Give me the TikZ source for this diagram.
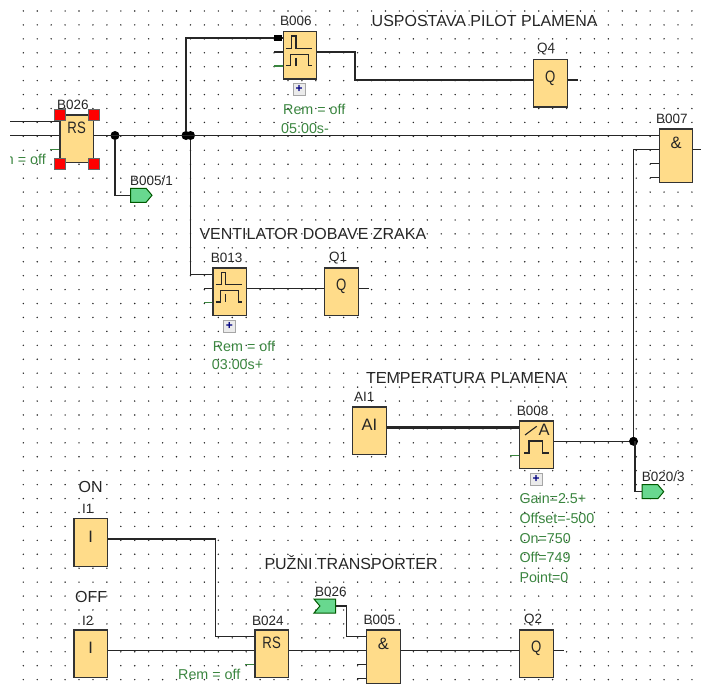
\documentclass[tikz,border=0pt]{standalone}
\usepackage{fontspec}
\setmainfont{Liberation Sans}
\usetikzlibrary{positioning,calc,shapes.symbols}
\definecolor{gatefill}{HTML}{FFDC8A}
\definecolor{remgreen}{HTML}{3A853F}
\definecolor{flagfill}{HTML}{68D88F}
\tikzset{
  griddot/.style={fill=black!85},
  wire/.style={draw=black!85,line width=1.1pt},
  pinwire/.style={draw=remgreen,line width=1.1pt},
  gate/.style={draw=black!80,fill=gatefill,line width=1.2pt,anchor=north west,inner sep=0pt,
    minimum width=33.5pt,minimum height=47.5pt},
  andgate/.style={gate,minimum height=53.5pt},
  gatelabel/.style={font=\fontsize{16.5}{16}\selectfont,text=black!85,inner sep=0pt},
  tag/.style={font=\fontsize{13.5}{14}\selectfont,text=black!85,anchor=west,inner sep=0pt},
  title/.style={font=\fontsize{16}{16}\selectfont,text=black!85,anchor=west,inner sep=0pt},
  param/.style={font=\fontsize{14.3}{15}\selectfont,text=remgreen,anchor=west,inner sep=0pt},
  junction/.style={circle,fill=black,inner sep=0pt,minimum size=9pt},
  grip/.style={draw=black!60,fill=red,inner sep=0pt,minimum size=11pt},
  expander/.style={draw=black!35,fill=black!8,inner sep=0pt,minimum size=12pt,text=blue!50!black,
    font=\bfseries\fontsize{12}{12}\selectfont},
  outflag/.style={signal,signal to=east,signal pointer angle=100,draw=green!35!black,fill=flagfill,
    line width=1pt,inner sep=0pt,minimum width=21.5pt,minimum height=14pt},
  inflag/.style={signal,signal from=west,signal to=nowhere,signal pointer angle=100,draw=green!35!black,
    fill=flagfill,line width=1pt,inner sep=0pt,minimum width=21.5pt,minimum height=14pt},
  icon/.style={draw=black!85,line width=1.1pt}
}
\newcommand{\pins}[1]{
  \coordinate (#1i1) at ($(#1.north west)+(0,7)$);
  \coordinate (#1i2) at ($(#1.north west)+(0,21)$);
  \coordinate (#1i3) at ($(#1.north west)+(0,35)$);
  \coordinate (#1i4) at ($(#1.north west)+(0,49)$);
  \coordinate (#1q) at ($(#1.north east)+(0,21)$);
}
\newcommand{\timericon}[1]{
  \begin{scope}[shift={(#1.north west)}]
    \draw[icon] (3.2,17.3) -- (9.2,17.3) -- (9.2,5) -- (13.5,5) -- (13.5,17.3) -- (29.5,17.3);
    \draw[icon] (3.2,34.7) -- (8.2,34.7) -- (8.2,23.3) -- (25.8,23.3) -- (25.8,34.7) -- (29.5,34.7);
    \draw[icon] (13.5,27) -- (13.5,34.7);
  \end{scope}
}
\begin{document}
\begin{tikzpicture}[x=1pt,y=-1pt]
  \useasboundingbox (0,0) rectangle (701,690);
  % grid
  \foreach \i in {0,...,48}
    \foreach \j in {0,...,48}
      \fill[griddot] ({23.3+13.93*\i},{11+13.93*\j}) circle (0.8);

  % titles
  \node[title] (tpilot) at (371.5,21) {USPOSTAVA PILOT PLAMENA};
  \node[title] (tfan) at (199.3,234) {VENTILATOR DOBAVE ZRAKA};
  \node[title] (ttemp) at (366,377.7) {TEMPERATURA PLAMENA};
  \node[title] (tpuz) at (264.3,562.7) {PUŽNI TRANSPORTER};
  \node[title] (ton) at (78.5,487.3) {ON};
  \node[title] (toff) at (75,596.7) {OFF};

  % blocks
  \node[gate,label={[gatelabel,yshift=10.7pt]center:\scalebox{0.8}[1]{RS}}] (b026) at (59.3,114.5) {};
  \node[gate] (b006) at (282.5,31) {};
  \node[gate,label={[gatelabel,yshift=5.5pt]center:\scalebox{0.8}[1]{Q}}] (q4) at (533,59) {};
  \node[andgate,label={[gatelabel,yshift=13pt]center:\&}] (b007) at (658.7,128.5) {};
  \node[gate] (b013) at (212.3,267.3) {};
  \node[gate,label={[gatelabel,yshift=5.5pt]center:\scalebox{0.8}[1]{Q}}] (q1) at (324,267.3) {};
  \node[gate,label={[gatelabel,yshift=5.5pt]center:AI}] (ai1) at (352,406.3) {};
  \node[gate] (b008) at (519,420.3) {};
  \node[gate,label={[gatelabel,yshift=5.5pt]center:I}] (i1) at (73.3,518) {};
  \node[gate,label={[gatelabel,yshift=5.5pt]center:I}] (i2) at (73.3,629.3) {};
  \node[gate,label={[gatelabel,yshift=10.7pt]center:\scalebox{0.8}[1]{RS}}] (b024) at (254.3,629.3) {};
  \node[andgate,label={[gatelabel,yshift=13pt]center:\&}] (b005) at (366,629.3) {};
  \node[gate,label={[gatelabel,yshift=5.5pt]center:\scalebox{0.8}[1]{Q}}] (q2) at (519,629.3) {};
  \pins{b026} \pins{b006} \pins{q4} \pins{b007} \pins{b013} \pins{q1}
  \pins{ai1} \pins{b008} \pins{i1} \pins{i2} \pins{b024} \pins{b005} \pins{q2}

  % block symbols
  \timericon{b006}
  \timericon{b013}
  \begin{scope}[shift={(b008.north west)}]
    \draw[icon] (6,14.7) -- (17.7,6);
    \node[gatelabel] (afa) at (25,9.7) {A};
    \draw[icon] (5,32.7) -- (10,32.7) -- (10,20.7) -- (23.3,20.7) -- (23.3,32.7) -- (30.3,32.7);
  \end{scope}

  % block tags
  \node[tag] (lb026) at (57,105) {B026};
  \node[tag] (lb006) at (280,21) {B006};
  \node[tag] (lq4) at (537,49.3) {Q4};
  \node[tag] (lb007) at (656,118.7) {B007};
  \node[tag] (lb013) at (210.7,257.7) {B013};
  \node[tag] (lq1) at (329,257.7) {Q1};
  \node[tag] (lai1) at (354,397) {AI1};
  \node[tag] (lb008) at (516.7,411) {B008};
  \node[tag] (li1) at (82,509) {I1};
  \node[tag] (li2) at (82,620.7) {I2};
  \node[tag] (lb024) at (252,620.7) {B024};
  \node[tag] (lb005) at (363.3,620.3) {B005};
  \node[tag] (lq2) at (524,620.3) {Q2};

  % junctions and bends
  \node[junction] (j1) at (115,135.5) {};
  \node[junction] (j2) at (186,135.5) {};
  \node[junction] (j3) at (190.5,135.5) {};
  \node[junction] (j4) at (633.5,441.3) {};
  \coordinate (in1) at (10,121.5);
  \coordinate (in2) at (10,135.5);
  \coordinate (k1) at (355,60);
  \coordinate (k2) at (346.3,620);
  \coordinate (k3) at (635,441.3);
  \coordinate (k4) at (215.7,590);

  % flags
  \node[outflag,anchor=west] (f0051) at (130,195.3) {};
  \node[outflag,anchor=west] (f0203) at (641.7,491.7) {};
  \node[inflag,anchor=east] (f026) at (336,606) {};
  \node[tag] (lf0051) at (130,181) {B005/1};
  \node[tag] (lf0203) at (641.7,477) {B020/3};
  \node[tag] (lf026) at (315,591.7) {B026};

  % wires
  \draw[wire] (in1) -- (b026i1);
  \draw[wire] (in2) -- (b026i2);
  \draw[pinwire] (b026i3) -- ++(-9,0);
  \draw[wire] (b026q) -- (b007i1);
  \draw[wire] (j1) |- (f0051.west);
  \draw[wire] (j2) |- (b006i1);
  \draw[wire] (j3) |- (b013i1);
  \draw[wire] (b006i2) -- ++(-9,0);
  \draw[pinwire] (b006i3) -- ++(-9,0);
  \draw[wire] (b006q) -| (k1) |- (q4i2);
  \draw[wire] (q4q) -- ++(10,0);
  \draw[wire] (b007i2) -| (j4);
  \draw[wire] (b007i3) -- ++(-9,0);
  \draw[wire] (b007i4) -- ++(-9,0);
  \draw[wire] (b007q) -- ++(9,0);
  \draw[wire] (b013i2) -- ++(-8,0);
  \draw[pinwire] (b013i3) -- ++(-8,0);
  \draw[wire] (b013q) -- (q1i2);
  \draw[wire] (q1q) -- ++(10,0);
  \draw[wire,line width=2.4pt] (ai1q) -- (b008i1);
  \draw[pinwire] (b008i3) -- ++(-9,0);
  \draw[wire] (b008q) -- (j4);
  \draw[wire] (k3) |- (f0203.west);
  \draw[wire] (i1q) -| (k4) |- (b024i1);
  \draw[wire] (i2q) -- (b024i2);
  \draw[pinwire] (b024i3) -- ++(-9,0);
  \draw[wire] (b024q) -- (b005i2);
  \draw[wire] (f026.east) -| (k2) |- (b005i1);
  \draw[wire] (b005i3) -- ++(-9,0);
  \draw[wire] (b005i4) -- ++(-9,0);
  \draw[wire] (b005q) -- (q2i2);
  \draw[wire] (q2q) -- ++(10,0);
  \node[fill=black,inner sep=0pt,minimum width=8pt,minimum height=6pt] (b006pin) at (278,38) {};

  % selected block
  \node[grip] (g1) at (b026.north west) {};
  \node[grip] (g2) at (b026.north east) {};
  \node[grip] (g3) at (b026.south west) {};
  \node[grip] (g4) at (b026.south east) {};

  % parameters
  \node[expander] (x006) at (299,89.3) {+};
  \node[expander] (x013) at (229.3,326) {+};
  \node[expander] (x008) at (536,479) {+};
  \begin{scope}
    \clip (10,145) rectangle (60,175);
    \node[param,anchor=east] (r026) at (46,159.7) {Rem = off};
  \end{scope}
  \node[param] (r006) at (283,109) {Rem = off};
  \node[param] (d006) at (281,129) {05:00s-};
  \node[param] (r013) at (212.7,346) {Rem = off};
  \node[param] (d013) at (211.7,365) {03:00s+};
  \node[param] (p1) at (519.3,498.7) {Gain=2.5+};
  \node[param] (p2) at (519.3,518.3) {Offset=-500};
  \node[param] (p3) at (519.3,538.3) {On=750};
  \node[param] (p4) at (519.3,557.7) {Off=749};
  \node[param] (p5) at (519.3,577.3) {Point=0};
  \node[param] (r024) at (178,674) {Rem = off};
\end{tikzpicture}
\end{document}
